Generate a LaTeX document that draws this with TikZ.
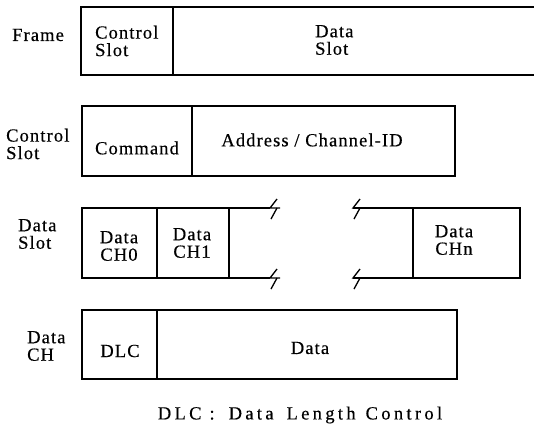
\documentclass[tikz,border=0pt]{standalone}
\usepackage{fontspec}
\newfontfamily\diafont{Liberation Serif}[LetterSpace=6,FakeBold=0.4]
\newfontfamily\capfont{Liberation Serif}[LetterSpace=18,FakeBold=0.4]
\newcommand{\brkmark}[1]{%
  \draw[brk] (#1) ++(7,-9) -- ++(-7,9) -- ++(10,0);
  \draw[brk] (#1) ++(7,0) -- ++(-6,11);}
\begin{document}
\begin{tikzpicture}[x=1pt,y=-1pt,
  box/.style={line width=1.3pt},
  brk/.style={line width=1.3pt},
  txt/.style={font=\diafont\fontsize{18.5}{17.5}\selectfont,
              inner sep=0pt, align=center},
  lbl/.style={txt, align=left, anchor=west},
  cell/.style={txt, align=left, anchor=west},
  captxt/.style={txt, font=\capfont\fontsize{18.5}{17.5}\selectfont}]
\useasboundingbox (0,0) rectangle (534,429);
% Frame
\draw[box] (534,7) -- (81,7) -- (81,75) -- (534,75);
\draw[box] (173,7) -- (173,75);
\node[lbl] (lframe) at (12,35) {Frame};
\node[cell] (fcs) at (95,41) {Control\\Slot};
\node[cell] (fds) at (315,40) {Data\\Slot};
% Control slot
\draw[box] (82,106) rectangle (455,176);
\draw[box] (192,106) -- (192,176);
\node[lbl] (lcs) at (6,144) {Control\\Slot};
\node[txt] (cmd) at (137,148) {Command};
\node[txt] (addr) at (312,140) {Address / Channel-ID};
% Data slot
\draw[box] (270,208) -- (82,208) -- (82,278) -- (270,278);
\draw[box] (157,208) -- (157,278);
\draw[box] (229,208) -- (229,278);
\draw[box] (353,208) -- (520,208) -- (520,278) -- (353,278);
\draw[box] (413,208) -- (413,278);
\brkmark{270,208}
\brkmark{270,278}
\brkmark{353,208}
\brkmark{353,278}
\node[lbl] (lds) at (18,234) {Data\\Slot};
\node[txt] (ch0) at (119,246) {Data\\CH0};
\node[txt] (ch1) at (192,243) {Data\\CH1};
\node[txt] (chn) at (454,240) {Data\\CHn};
% Data CH
\draw[box] (82,310) rectangle (457,379);
\draw[box] (157,310) -- (157,379);
\node[lbl] (ldc) at (27,346) {Data\\CH};
\node[txt] (dlc) at (120,351) {DLC};
\node[txt] (dat) at (310,348) {Data};
\node[captxt] (cap) at (300,415) {DLC\hspace{8pt}:\hspace{14pt}Data\hspace{13pt}Length\hspace{10pt}Control};
\end{tikzpicture}
\end{document}
